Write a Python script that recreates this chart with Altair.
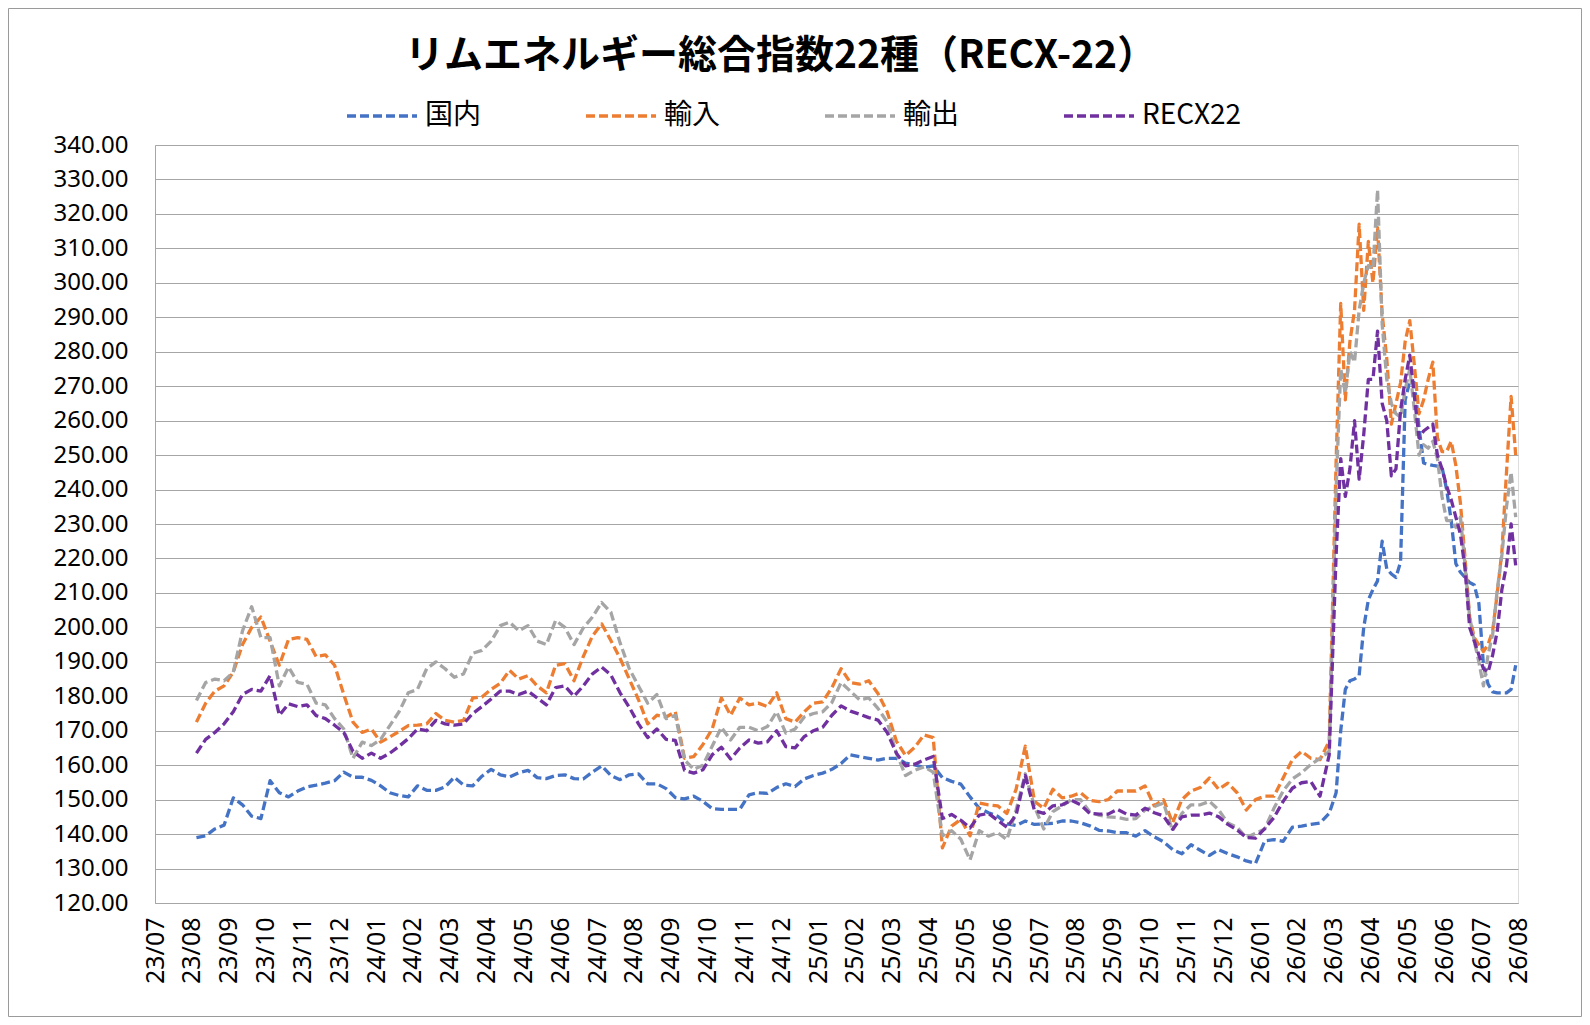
import altair as alt
import pandas as pd

title_text = "リムエネルギー総合指数22種（RECX-22）"

month_labels = [
    "23/07", "23/08", "23/09", "23/10", "23/11", "23/12",
    "24/01", "24/02", "24/03", "24/04", "24/05", "24/06",
    "24/07", "24/08", "24/09", "24/10", "24/11", "24/12",
    "25/01", "25/02", "25/03", "25/04", "25/05", "25/06",
    "25/07", "25/08", "25/09", "25/10", "25/11", "25/12",
    "26/01", "26/02", "26/03", "26/04", "26/05", "26/06",
    "26/07", "26/08",
]

# readings per month (23/08 ... 26/07), evenly spread inside each month
domestic = [
    [139, 139.5, 141.5, 142.6], [150.5, 148.5, 145.2, 144.5], [155.5, 152, 150.8, 152.5],
    [153.7, 154.2, 154.8, 155.5], [158, 156.5, 156.5, 155.6], [154, 152, 151.2, 150.8],
    [154, 152.7, 152.7, 153.7], [156.5, 154.2, 154, 156.8], [158.8, 157.2, 156.6, 157.8],
    [158.5, 156.4, 156.1, 157], [157.2, 156.1, 156, 158], [159.8, 157, 155.8, 157.2],
    [157.5, 154.6, 154.6, 153.2], [150.6, 150.2, 151, 149.5], [147.4, 147.2, 147.2, 147.2],
    [151.4, 152, 151.8, 153.5], [154.6, 153.8, 156, 157], [157.7, 158.8, 160.5, 163],
    [162.5, 162, 161.5, 162], [162, 160.6, 160.1, 159.3], [159.8, 156.4, 155.3, 154.5],
    [150.8, 147.5, 146.2, 145.2], [143, 142.5, 143.8, 142.8], [143, 143.1, 143.8, 143.8],
    [143.3, 142.4, 141.1, 140.9], [140.4, 140.4, 139.4, 141], [139.2, 137.8, 135.5, 134.3],
    [136.9, 135.3, 133.8, 135.5], [134.3, 133.4, 132.2, 131.5], [138, 138.4, 137.9, 142],
    [142.3, 142.8, 143.2, 146],
    [152, 170, 182, 184.5, 185, 186, 200, 208],
    [211, 213.5, 225, 217, 215.5, 214.5, 219, 266],
    [271.5, 271, 258, 247.7, 247.3, 247, 246.8, 246.5],
    [240, 231, 218.5, 216, 214.5, 213, 212.3, 207],
    [189, 183.5, 181.3, 181, 181, 181, 182, 189],
]

imports = [
    [172.5, 178, 181.5, 183], [187, 195, 200, 203], [196, 189, 196.5, 197],
    [196.5, 191.5, 192, 189], [180.5, 172.5, 169.5, 170.5], [166.7, 168.2, 169.8, 171.5],
    [171.6, 172, 175, 173], [172.5, 173, 179.5, 179.8], [182, 183.8, 187.5, 185],
    [186, 183, 181, 189], [189.5, 184.5, 191.5, 197.5], [201, 196.2, 191, 185],
    [179, 172, 174.5, 174], [175.5, 162, 162.5, 166], [170.5, 179.5, 174.5, 179.5],
    [177.5, 178, 177, 181], [173.5, 172.5, 175.5, 178], [178.4, 182.5, 188, 184],
    [183.5, 184.5, 180.8, 175.5], [167, 162.8, 165.2, 168.8], [168, 136, 142.3, 144.3],
    [139.5, 149, 148.5, 148.2], [146, 153, 165.5, 149.5], [147.5, 153, 150.5, 151],
    [152, 149.8, 149.4, 150], [152.5, 152.5, 152.5, 154], [148.2, 150, 143.3, 150],
    [152.5, 153.5, 156.3, 153], [154.8, 152, 147, 150], [151, 151, 156.3, 161.6],
    [164, 162, 161.6, 167],
    [248, 294, 266, 283, 292, 317, 292, 312],
    [300, 316, 291, 278, 259, 265, 271, 283],
    [289, 276, 262, 266, 272, 277, 255, 251],
    [251, 254, 247, 236, 220, 203, 197, 195],
    [193, 195, 199, 210, 222, 245, 267, 250],
]

exports = [
    [178.8, 184, 185, 184.5], [187, 199, 206, 197], [197, 183, 188.5, 184],
    [183.5, 178, 177.5, 173.5], [170.5, 162, 166.7, 165.7], [167.5, 171.5, 175.5, 181],
    [182, 188, 190, 188], [185.5, 186.5, 192.5, 193.3], [196, 200.5, 201.5, 199],
    [200.5, 196, 195, 202], [200, 195, 199.8, 203], [207.2, 204.4, 195.5, 188],
    [183, 178, 180.5, 173.5], [174.5, 161.5, 158.8, 160], [165.5, 171, 167.3, 171],
    [171, 170, 171.2, 175.5], [169.3, 170.5, 174, 175], [175.5, 178.2, 184, 181.5],
    [179, 179.5, 176.5, 172.5], [163.5, 157, 158.5, 159.5], [158, 139.5, 141, 138.5],
    [132.5, 141, 139.4, 140.4], [138.4, 147, 157.5, 148], [141.5, 146.5, 148.2, 150],
    [150, 146.4, 145.5, 145], [144.8, 144.3, 144.5, 147], [148, 149, 141, 146],
    [148.5, 148.5, 149.5, 147], [143.2, 142, 139, 140.2], [141.5, 147.5, 152.5, 156],
    [157.8, 160.2, 162, 164],
    [240, 275, 268, 280, 277, 292, 300, 305],
    [304, 327, 288, 272, 265, 262, 261, 269],
    [275, 263, 250, 253, 252, 254, 249, 238],
    [231, 231, 229, 232, 218, 203, 196, 190],
    [183, 192, 198, 211, 221, 235, 245, 232],
]

recx22 = [
    [163.5, 167.5, 169.5, 172], [175.5, 180.5, 182, 181.5], [186, 174.5, 177.8, 177],
    [177.5, 174.4, 173.5, 171.6], [169.5, 164, 162, 163.5], [162, 163.5, 165.5, 167.7],
    [170.5, 170, 173, 172], [171.6, 172, 175, 177], [179.2, 181.5, 181.5, 180.5],
    [181.5, 179.5, 177.5, 182.5], [183, 180, 183, 186.5], [188.5, 186.2, 181, 176.8],
    [172, 168, 170.5, 167.5], [167.2, 158.5, 157.7, 158.7], [163, 165.2, 161.8, 165],
    [167.3, 166.4, 166.8, 170], [165.4, 165, 168.3, 170], [171, 174.5, 177.2, 175.7],
    [174.8, 173.8, 173.1, 169.5], [163.5, 159.8, 160.3, 161.5], [162.5, 144.5, 145.7, 144],
    [141.8, 145.5, 146, 144], [142, 145.5, 157, 146.8], [146, 148.2, 148.5, 149.8],
    [148.5, 146, 145.8, 145.8], [147.2, 145.8, 145.5, 147.5], [146.2, 145.3, 141.4, 145],
    [145.5, 145.5, 146.1, 145], [142.8, 141.2, 139, 138.8], [141.6, 144.8, 149.5, 153.3],
    [154.9, 155.3, 151, 163],
    [221, 249, 238, 246, 260, 243, 256, 272],
    [272, 286, 265, 260, 244, 246, 263, 272],
    [279, 267, 255, 257, 258, 259, 250, 246],
    [241, 237, 232, 227, 217, 200, 196, 192],
    [188, 187, 192, 199, 211, 218, 230, 218],
]

series_names = ["国内", "輸入", "輸出", "RECX22"]
series_colors = ["#4472C4", "#ED7D31", "#A5A5A5", "#7030A0"]
series_data = [domestic, imports, exports, recx22]

rows = []
for name, months in zip(series_names, series_data):
    for mi, vals in enumerate(months, start=1):
        n = len(vals)
        for k, v in enumerate(vals):
            rows.append({"t": mi + (k + 0.5) / n, "v": v, "s": name})
df = pd.DataFrame(rows)

label_js = "[" + ",".join("'" + s + "'" for s in month_labels) + "][datum.value]"

W, H = 1363, 758
PAD = {"left": 147, "top": 137, "right": 64, "bottom": 114}
GRID = "#A6A6A6"
JP = "Noto Sans CJK JP"
DASH = [9, 4]
LW = 3.3

legend = alt.Legend(
    title=None, orient="none", legendX=190, legendY=-66, direction="horizontal",
    columns=4, gridAlign="all", columnPadding=54, symbolType="stroke",
    symbolSize=4900, symbolStrokeWidth=LW, symbolDash=DASH, labelFont=JP,
    labelFontSize=28, labelColor="black", labelOffset=6, padding=0, labelLimit=400,
)

color = alt.Color(
    "s:N",
    scale=alt.Scale(domain=series_names, range=series_colors),
    legend=legend,
)

x_enc = alt.X(
    "t:Q",
    scale=alt.Scale(domain=[0, 37], nice=False, zero=False),
    axis=alt.Axis(
        title=None, values=list(range(len(month_labels))), labelExpr=label_js,
        labelAngle=270, grid=False, ticks=False, labelPadding=14,
        labelFontSize=25, labelFont="Noto Sans", labelColor="black",
        labelOverlap=False, labelFlush=False, domainColor=GRID, domainWidth=1,
    ),
)
y_enc = alt.Y(
    "v:Q",
    scale=alt.Scale(domain=[120, 340], nice=False, zero=False),
    axis=alt.Axis(
        title=None, values=list(range(120, 341, 10)), format=".2f", grid=True,
        gridColor=GRID, gridWidth=1, ticks=False, labelPadding=27,
        labelFontSize=24, labelFont="Noto Sans", labelColor="black",
        domainColor=GRID, domainWidth=1,
    ),
)

base = alt.Chart(df)
layers = []
for name in series_names:
    layers.append(
        base.transform_filter(alt.datum.s == name)
        .mark_line(strokeDash=DASH, strokeWidth=LW, strokeJoin="round")
        .encode(x=x_enc, y=y_enc, color=color)
    )

one_row = pd.DataFrame({"title": [title_text]})

frame = alt.Chart(one_row).mark_rect(
    fillOpacity=0, stroke="#9A9A9A", strokeWidth=1
).encode(
    x=alt.value(-PAD["left"] + 0.5), x2=alt.value(W + PAD["right"] - 0.5),
    y=alt.value(-PAD["top"] + 0.5), y2=alt.value(H + PAD["bottom"] - 0.5),
)

title_mark = alt.Chart(one_row).mark_text(
    font=JP, fontSize=39, fontWeight="bold", color="black",
    align="center", baseline="middle",
).encode(
    text="title:N", x=alt.value(W / 2 - 56), y=alt.value(-89),
)

chart = alt.layer(frame, title_mark, *layers).properties(
    width=W, height=H, padding=PAD,
    autosize=alt.AutoSizeParams(type="none"),
).configure_view(stroke=None).configure(background="white")

chart.save("out.html", embed_options={"renderer": "svg", "actions": False})
